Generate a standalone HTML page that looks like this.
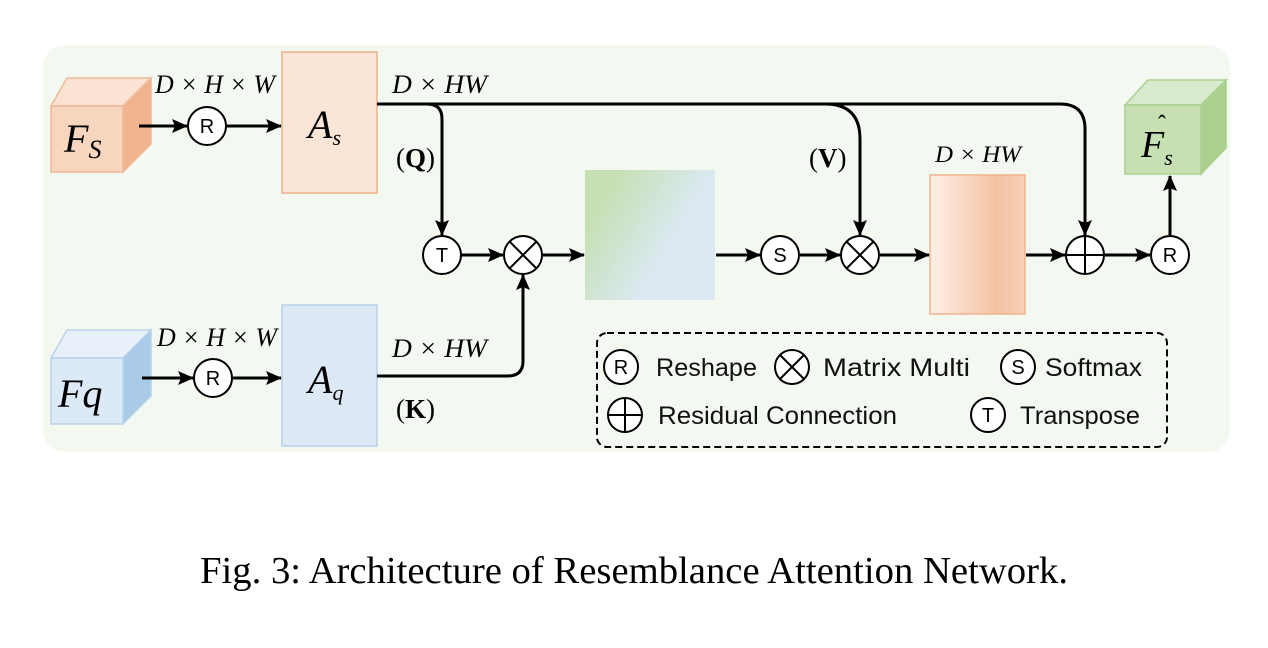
<!DOCTYPE html>
<html><head><meta charset="utf-8"><style>
html,body{margin:0;padding:0;background:#fff;width:1268px;height:648px;overflow:hidden}
svg{display:block}
.m{font-family:"Liberation Serif",serif;font-style:italic}
.s{font-family:"Liberation Sans",sans-serif}
</style></head><body>
<svg width="1268" height="648" viewBox="0 0 1268 648" xmlns="http://www.w3.org/2000/svg">
<defs>
<marker id="a" markerWidth="16" markerHeight="14" refX="15" refY="7" orient="auto" markerUnits="userSpaceOnUse"><path d="M0,0 L16,7 L0,14 L3,7 z" fill="#000"/></marker>
<linearGradient id="gb" x1="0" y1="0" x2="1" y2="0.6"><stop offset="0.2" stop-color="#c6e0b4"/><stop offset="0.75" stop-color="#dce9f3"/></linearGradient>
<linearGradient id="go" x1="0" y1="0" x2="1" y2="0"><stop offset="0" stop-color="#fdf0e8"/><stop offset="0.7" stop-color="#f4c2a2"/><stop offset="1" stop-color="#f6d0b6"/></linearGradient>
</defs>
<rect x="43" y="45" width="1187" height="407" rx="22" fill="#f3f8f1"/>
<!-- Fs cube -->
<polygon points="51,106 67,78 151,78 123,106" fill="#fbe3d4" stroke="#f0b896" stroke-width="1.5"/>
<polygon points="123,106 151,78 151,144 123,172" fill="#f2b48e" stroke="#f0b896" stroke-width="1.5"/>
<rect x="51" y="106" width="72" height="66" fill="#f8d5bf" stroke="#f0b896" stroke-width="1.5"/>
<text x="64" y="152" class="m" font-size="40">F<tspan font-size="26" dy="6">S</tspan></text>
<!-- Fq cube -->
<polygon points="51,358 67,330 151,330 123,358" fill="#e8f1fa" stroke="#b9d3ec" stroke-width="1.5"/>
<polygon points="123,358 151,330 151,396 123,424" fill="#a9cbe8" stroke="#b9d3ec" stroke-width="1.5"/>
<rect x="51" y="358" width="72" height="66" fill="#dce9f6" stroke="#b9d3ec" stroke-width="1.5"/>
<text x="58" y="407" class="m" font-size="40">Fq</text>
<!-- Out cube -->
<polygon points="1125,105 1148,80 1226,80 1201,105" fill="#d9ebcd" stroke="#a9d08e" stroke-width="1.5"/>
<polygon points="1201,105 1226,80 1226,148 1201,174" fill="#a9d08e" stroke="#a9d08e" stroke-width="1.5"/>
<rect x="1125" y="105" width="76" height="69" fill="#c6e0b4" stroke="#a9d08e" stroke-width="1.5"/>
<text x="1141" y="157" class="m" font-size="38">F<tspan font-size="22" dy="8">s</tspan></text>
<text x="1158" y="132" font-family="Liberation Serif,serif" font-size="24">ˆ</text>
<!-- As / Aq -->
<rect x="282" y="52" width="95" height="141" fill="#fae5d6" stroke="#f0b08a" stroke-width="1.5"/>
<text x="308" y="138" class="m" font-size="40">A<tspan font-size="22" dy="7">s</tspan></text>
<rect x="282" y="305" width="95" height="141" fill="#dde9f5" stroke="#b6d1ec" stroke-width="1.5"/>
<text x="308" y="393" class="m" font-size="40">A<tspan font-size="22" dy="7">q</tspan></text>
<rect x="585" y="170" width="130" height="130" fill="url(#gb)"/>
<rect x="930" y="175" width="95" height="139" fill="url(#go)" stroke="#f2b290" stroke-width="1.5"/>
<!-- labels -->
<g class="m" font-size="26">
<text x="155" y="93" textLength="120" lengthAdjust="spacingAndGlyphs">D × H × W</text>
<text x="157" y="346" textLength="120" lengthAdjust="spacingAndGlyphs">D × H × W</text>
<text x="392" y="93" textLength="95" lengthAdjust="spacingAndGlyphs">D × HW</text>
<text x="392" y="357" textLength="95" lengthAdjust="spacingAndGlyphs">D × HW</text>
<text x="935" y="162" font-size="23" textLength="86" lengthAdjust="spacingAndGlyphs">D × HW</text>
</g>
<g font-family="Liberation Serif,serif" font-size="27" font-weight="bold">
<text x="396" y="167"><tspan font-weight="normal">(</tspan>Q<tspan font-weight="normal">)</tspan></text>
<text x="396" y="418"><tspan font-weight="normal">(</tspan>K<tspan font-weight="normal">)</tspan></text>
<text x="809" y="167"><tspan font-weight="normal">(</tspan>V<tspan font-weight="normal">)</tspan></text>
</g>
<!-- connectors -->
<g stroke="#000" stroke-width="3" fill="none">
<line x1="139" y1="126" x2="187" y2="126" marker-end="url(#a)"/>
<line x1="227" y1="126" x2="281" y2="126" marker-end="url(#a)"/>
<line x1="142" y1="378" x2="193" y2="378" marker-end="url(#a)"/>
<line x1="233" y1="378" x2="281" y2="378" marker-end="url(#a)"/>
<path d="M377,104 L1060,104 Q1085,104 1085,129 L1085,235" marker-end="url(#a)"/>
<path d="M377,104 L427,104 Q442,104 442,119 L442,235" marker-end="url(#a)"/>
<path d="M377,104 L825,104 Q860,104 860,139 L860,235" marker-end="url(#a)"/>
<path d="M377,376 L508,376 Q523,376 523,361 L523,275" marker-end="url(#a)"/>
<line x1="461" y1="255" x2="503" y2="255" marker-end="url(#a)"/>
<line x1="543" y1="255" x2="584" y2="255" marker-end="url(#a)"/>
<line x1="716" y1="255" x2="760" y2="255" marker-end="url(#a)"/>
<line x1="800" y1="255" x2="840" y2="255" marker-end="url(#a)"/>
<line x1="880" y1="255" x2="929" y2="255" marker-end="url(#a)"/>
<line x1="1026" y1="255" x2="1065" y2="255" marker-end="url(#a)"/>
<line x1="1105" y1="255" x2="1150" y2="255" marker-end="url(#a)"/>
<line x1="1170" y1="235" x2="1170" y2="176" marker-end="url(#a)"/>
</g>
<!-- circles -->
<g stroke="#000" stroke-width="2" fill="#fff">
<circle cx="207" cy="126" r="19"/><circle cx="213" cy="378" r="19"/>
<circle cx="442" cy="255" r="19"/><circle cx="523" cy="255" r="19"/>
<circle cx="780" cy="255" r="19"/><circle cx="860" cy="255" r="19"/>
<circle cx="1085" cy="255" r="19"/><circle cx="1170" cy="255" r="19"/>
<circle cx="621" cy="367" r="17"/><circle cx="792" cy="367" r="17"/><circle cx="1018" cy="367" r="17"/>
<circle cx="625" cy="415" r="17"/><circle cx="988" cy="415" r="17"/>
</g>
<g stroke="#000" stroke-width="2">
<path d="M510,242 L536,268 M536,242 L510,268"/>
<path d="M847,242 L873,268 M873,242 L847,268"/>
<path d="M1066,255 L1104,255 M1085,236 L1085,274"/>
<path d="M780,355 L804,379 M804,355 L780,379"/>
<path d="M608,415 L642,415 M625,398 L625,432"/>
</g>
<g class="s" font-size="20" text-anchor="middle">
<text x="207" y="133">R</text><text x="213" y="385">R</text><text x="442" y="262">T</text>
<text x="780" y="262">S</text><text x="1170" y="262">R</text>
<text x="621" y="374">R</text><text x="1018" y="374">S</text><text x="988" y="422">T</text>
</g>
<rect x="597" y="333" width="570" height="114" rx="10" fill="none" stroke="#000" stroke-width="2" stroke-dasharray="7,4"/>
<g class="s" font-size="25" fill="#111">
<text x="656" y="376" textLength="101" lengthAdjust="spacingAndGlyphs">Reshape</text>
<text x="823" y="376" textLength="147" lengthAdjust="spacingAndGlyphs">Matrix Multi</text>
<text x="1045" y="376" textLength="97" lengthAdjust="spacingAndGlyphs">Softmax</text>
<text x="658" y="424" textLength="239" lengthAdjust="spacingAndGlyphs">Residual Connection</text>
<text x="1020" y="424" textLength="120" lengthAdjust="spacingAndGlyphs">Transpose</text>
</g>
<text x="634" y="583" text-anchor="middle" font-family="Liberation Serif,serif" font-size="38" textLength="868" lengthAdjust="spacingAndGlyphs">Fig. 3: Architecture of Resemblance Attention Network.</text>
</svg>
</body></html>
